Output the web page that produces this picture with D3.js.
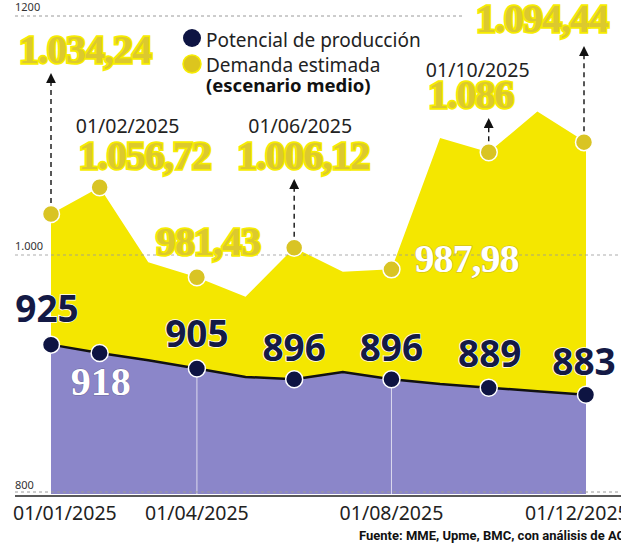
<!DOCTYPE html>
<html>
<head>
<meta charset="utf-8">
<script src="https://cdn.jsdelivr.net/npm/d3@7"></script>
<style>
  body { margin: 0; background: #fff; }
  svg { display: block; }
</style>
</head>
<body>
<div class="chart"></div>
<script>
// datos (mensual, 2025)
let meses = ["01/01/2025", "01/02/2025", "01/03/2025", "01/04/2025", "01/05/2025", "01/06/2025",
             "01/07/2025", "01/08/2025", "01/09/2025", "01/10/2025", "01/11/2025", "01/12/2025"];
let demanda = [1034.24, 1056.72, 994, 981.43, 965, 1006.12, 986, 987.98, 1098, 1086, 1120, 1094.44];
let potencial = [925, 918, 912, 905, 898, 896, 902, 896, 892, 889, 886, 883];
let yTicks = [800, 1000, 1200];
let yTickLabels = ["800", "1.000", "1200"];
let xTicks = [0, 3, 7, 11];
let demandaMarcados = [0, 1, 3, 5, 7, 9, 11];
let potencialMarcados = [0, 1, 3, 5, 7, 9, 11];
let fuente = "Fuente: MME, Upme, BMC, con análisis de ACP";

let width = 621, height = 545;

let svg = d3.select(".chart").append("svg")
    .attr("width", width)
    .attr("height", height);

let x = d3.scaleLinear().domain([0, meses.length - 1]).range([51, 586]);
let y = d3.scaleLinear().domain([800, 1200]).range([494, 16]);

let es = d3.formatLocale({decimal: ",", thousands: ".", grouping: [3], currency: ["$", ""]});
let fmt = function(v) { return Number.isInteger(v) ? es.format(",d")(v) : es.format(",.2f")(v); };

let serif = "'Liberation Serif', 'DejaVu Serif', serif";
let sans = "'Noto Sans', 'Open Sans', sans-serif";

// areas
let areaDemanda = d3.area()
    .x(function(d, i) { return x(i); })
    .y0(y(800))
    .y1(function(d) { return y(d); });

svg.append("path")
    .attr("d", areaDemanda(demanda))
    .attr("fill", "#f4e700");

svg.append("path")
    .attr("d", areaDemanda(potencial))
    .attr("fill", "#8b86c9");

// lineas verticales blancas
[3, 7].forEach(function(i) {
  svg.append("line")
    .attr("x1", x(i)).attr("x2", x(i))
    .attr("y1", y(potencial[i])).attr("y2", y(800))
    .attr("stroke", "#fff").attr("stroke-opacity", 0.7).attr("stroke-width", 1);
});

// grilla
let grid = svg.append("g");
grid.selectAll("line")
  .data(yTicks)
  .enter().append("line")
    .attr("x1", 15)
    .attr("x2", function(d) { return d == 1200 ? 465 : 621; })
    .attr("y1", function(d) { return y(d) - (d == 800 ? 2 : 0); })
    .attr("y2", function(d) { return y(d) - (d == 800 ? 2 : 0); })
    .attr("stroke", "#9a9a9a")
    .attr("stroke-opacity", function(d) { return d == 1000 ? 0.8 : 1; })
    .attr("stroke-dasharray", "3,3")
    .attr("stroke-width", 1);

grid.selectAll("text")
  .data(yTicks)
  .enter().append("text")
    .attr("x", 15)
    .attr("y", function(d) { return y(d) - 5; })
    .attr("font-family", sans)
    .attr("font-size", 11)
    .attr("fill", "#333")
    .text(function(d, i) { return yTickLabels[i]; });

svg.append("line")
    .attr("x1", 15).attr("x2", 621)
    .attr("y1", y(800) + 2).attr("y2", y(800) + 2)
    .attr("stroke", "#222").attr("stroke-width", 1.5);

// linea del potencial
let linea = d3.line()
    .x(function(d, i) { return x(i); })
    .y(function(d) { return y(d); });

svg.append("path")
    .attr("d", linea(potencial))
    .attr("fill", "none")
    .attr("stroke", "#111")
    .attr("stroke-width", 2.5);

// flechas
svg.append("defs").append("marker")
    .attr("id", "flecha")
    .attr("viewBox", "0 0 10 10")
    .attr("refX", 5).attr("refY", 5)
    .attr("markerWidth", 7).attr("markerHeight", 7)
    .attr("orient", "auto-start-reverse")
    .append("path")
    .attr("d", "M0,0L10,5L0,10z")
    .attr("fill", "#111");

let flechas = {0: 75, 5: 181, 9: 120, 11: 48};
Object.keys(flechas).forEach(function(k) {
  let i = +k;
  svg.append("line")
    .attr("x1", x(i) - (i == 11 ? 2 : 0)).attr("x2", x(i) - (i == 11 ? 2 : 0))
    .attr("y1", y(demanda[i]) - 11)
    .attr("y2", flechas[k] + 3)
    .attr("stroke", "#111")
    .attr("stroke-width", 1.4)
    .attr("stroke-dasharray", "5,4")
    .attr("marker-end", "url(#flecha)");
});

// puntos
svg.selectAll(".pd")
  .data(demandaMarcados)
  .enter().append("circle")
    .attr("class", "pd")
    .attr("cx", function(i) { return x(i) - (i == 11 ? 2 : 0); })
    .attr("cy", function(i) { return y(demanda[i]); })
    .attr("r", 8.5)
    .attr("fill", "#d9c424")
    .attr("stroke", "#fff")
    .attr("stroke-width", 1.5);

svg.selectAll(".pp")
  .data(potencialMarcados)
  .enter().append("circle")
    .attr("class", "pp")
    .attr("cx", function(i) { return x(i); })
    .attr("cy", function(i) { return y(potencial[i]); })
    .attr("r", 8.5)
    .attr("fill", "#0e1442")
    .attr("stroke", "#fff")
    .attr("stroke-width", 1.5);

// etiquetas demanda
let posDemanda = {
  0: {dx: 34, y: 63},
  1: {dx: 45, y: 169, fecha: 133, fdx: 28},
  3: {dx: 11, y: 255},
  5: {dx: 9, y: 169, fecha: 133, fdx: 6},
  7: {dx: 75, y: 272, blanco: true},
  9: {dx: -18, y: 108, fecha: 77, fdx: -11},
  11: {dx: -44, y: 32}
};

demandaMarcados.forEach(function(i) {
  let p = posDemanda[i];
  let t = svg.append("text")
    .attr("x", x(i) + p.dx)
    .attr("y", p.y)
    .attr("text-anchor", "middle")
    .attr("font-family", serif)
    .attr("font-weight", "bold")
    .attr("font-size", 40)
    .attr("letter-spacing", -1)
    .attr("paint-order", "stroke")
    .text(fmt(demanda[i]));
  if (p.blanco) {
    t.attr("fill", "#fff").attr("stroke", "#c9b52a").attr("stroke-width", 1.2);
  } else {
    t.attr("fill", "#dcc92e").attr("stroke", "#f6ec00").attr("stroke-width", 3.5);
  }
  if (p.fecha) {
    svg.append("text")
      .attr("x", x(i) + p.fdx)
      .attr("y", p.fecha)
      .attr("text-anchor", "middle")
      .attr("font-family", sans)
      .attr("font-size", 19.5)
      .attr("fill", "#222")
      .text(meses[i]);
  }
});

// etiquetas potencial
let posPotencial = {
  0: {dx: -4, dy: -23},
  1: {dx: 1, dy: 42, blanco: true},
  3: {dx: 0, dy: -22},
  5: {dx: 0, dy: -18},
  7: {dx: 0, dy: -18},
  9: {dx: 1, dy: -21},
  11: {dx: -2, dy: -20}
};

potencialMarcados.forEach(function(i) {
  let p = posPotencial[i];
  let t = svg.append("text")
    .attr("x", x(i) + p.dx)
    .attr("y", y(potencial[i]) + p.dy)
    .attr("text-anchor", "middle")
    .attr("font-weight", "bold")
    .attr("paint-order", "stroke")
    .text(fmt(potencial[i]));
  if (p.blanco) {
    t.attr("font-family", serif).attr("font-size", 40)
     .attr("fill", "#fff").attr("stroke", "#6d6899").attr("stroke-width", 1);
  } else {
    t.attr("font-family", sans).attr("font-size", 37)
     .attr("fill", "#141a45").attr("stroke", "#fff").attr("stroke-width", 1.5);
  }
});

// eje x
svg.selectAll(".xt")
  .data(xTicks)
  .enter().append("text")
    .attr("class", "xt")
    .attr("x", function(i) { return i == 0 ? 13 : i == 11 ? 525 : x(i); })
    .attr("y", 520)
    .attr("text-anchor", function(i) { return (i == 0 || i == 11) ? "start" : "middle"; })
    .attr("font-family", sans)
    .attr("font-size", 19.5)
    .attr("fill", "#222")
    .text(function(i) { return meses[i]; });

// leyenda
let leyenda = svg.append("g");
leyenda.append("circle").attr("cx", 192).attr("cy", 38).attr("r", 9).attr("fill", "#0e1442");
leyenda.append("circle").attr("cx", 192).attr("cy", 64).attr("r", 9).attr("fill", "#dcc51e")
    .attr("stroke", "#f6ec00").attr("stroke-width", 1.5);
leyenda.append("text").attr("x", 206).attr("y", 47)
    .attr("font-family", sans).attr("font-size", 19).attr("fill", "#222")
    .text("Potencial de producción");
leyenda.append("text").attr("x", 206).attr("y", 72)
    .attr("font-family", sans).attr("font-size", 19).attr("fill", "#222")
    .text("Demanda estimada");
leyenda.append("text").attr("x", 206).attr("y", 92)
    .attr("font-family", sans).attr("font-size", 18.5).attr("font-weight", "bold").attr("fill", "#111")
    .text("(escenario medio)");

// fuente
svg.append("text")
    .attr("x", 359).attr("y", 540)
    .attr("font-family", "Roboto, sans-serif")
    .attr("font-size", 13)
    .attr("font-weight", "bold")
    .attr("fill", "#111")
    .text(fuente);
</script>
</body>
</html>
